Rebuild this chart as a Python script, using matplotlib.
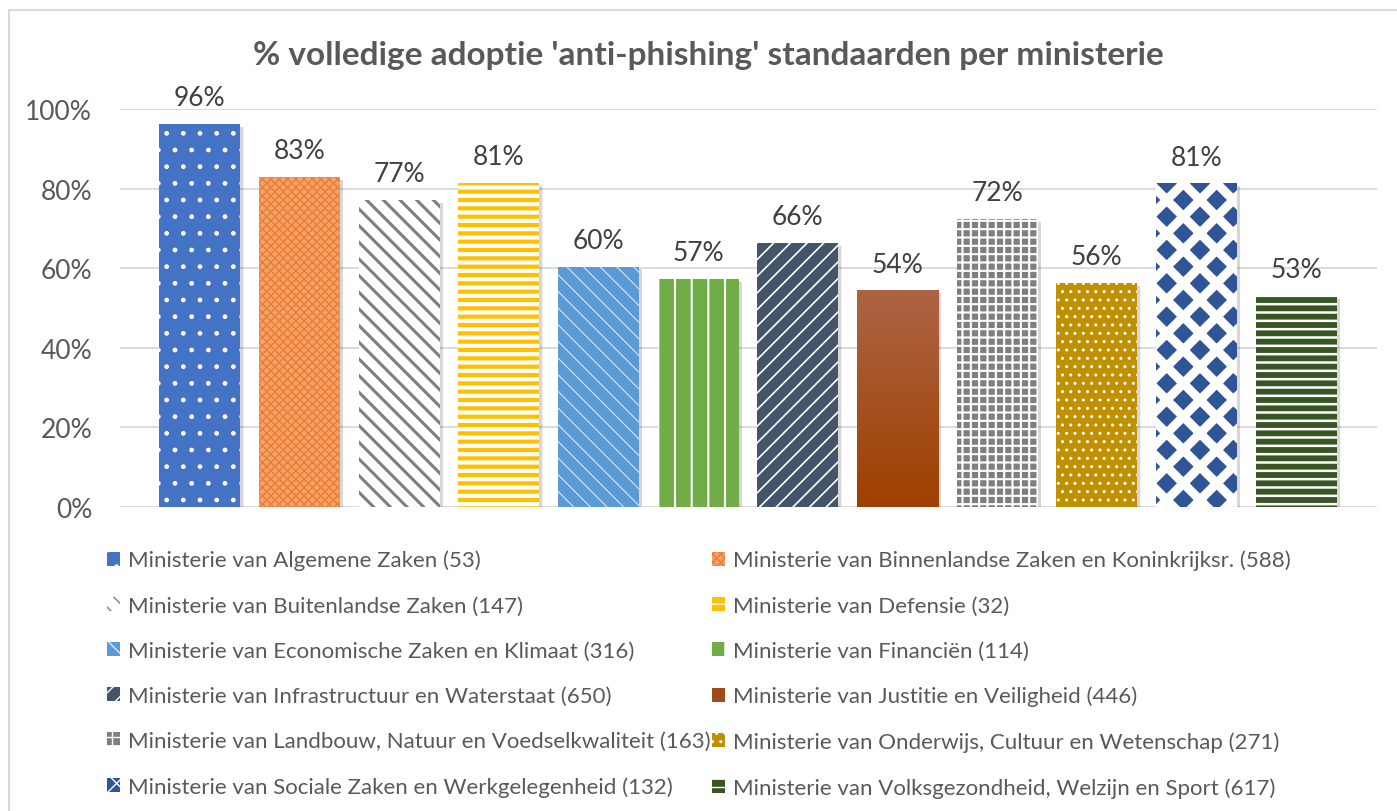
import numpy as np
import matplotlib
matplotlib.use('Agg')
import matplotlib.pyplot as plt
from matplotlib.patches import Rectangle
from matplotlib.ticker import PercentFormatter
from matplotlib.transforms import ScaledTranslation

plt.rcParams['font.family'] = ['Lato', 'DejaVu Sans']

# data
ministeries = [
    'Ministerie van Algemene Zaken (53)',
    'Ministerie van Binnenlandse Zaken en Koninkrijksr. (588)',
    'Ministerie van Buitenlandse Zaken (147)',
    'Ministerie van Defensie (32)',
    'Ministerie van Economische Zaken en Klimaat (316)',
    'Ministerie van Financiën (114)',
    'Ministerie van Infrastructuur en Waterstaat (650)',
    'Ministerie van Justitie en Veiligheid (446)',
    'Ministerie van Landbouw, Natuur en Voedselkwaliteit (163)',
    'Ministerie van Onderwijs, Cultuur en Wetenschap (271)',
    'Ministerie van Sociale Zaken en Werkgelegenheid (132)',
    'Ministerie van Volksgezondheid, Welzijn en Sport (617)',
]
adoptie = [0.963, 0.829, 0.771, 0.814, 0.604, 0.573, 0.663, 0.544, 0.724, 0.562, 0.813, 0.530]
title = "% volledige adoptie 'anti-phishing' standaarden per ministerie"

# styles: (face, hatch colour, hatch, hatch linewidth)
styles = [
    ('#4472C4', 'white', '.', 1.0),
    ('#F3A26A', '#ED7D31', 'xxxx', 1.0),
    ('white', '#7F7F7F', '\\\\', 2.2),
    ('#FFC000', 'white', '--', 3.0),
    ('#5B9BD5', '#D8E6F4', '\\\\', 0.8),
    ('#70AD47', 'white', '|', 1.5),
    ('#44546A', 'white', '//', 1.2),
    ('#A14A1A', None, '', 0),
    ('#7F7F7F', 'white', '++', 1.5),
    ('#BF9000', 'white', '..', 1.0),
    ('#2F5597', 'white', 'x', 6.5),
    ('#375623', 'white', '--', 1.8),
]
grad_top, grad_bottom = '#AD6444', '#9E4000'

text_grey = '#595959'

fig = plt.figure(figsize=(13.97, 8.12), dpi=100)
ax = fig.add_axes([120 / 1397, 1 - 508 / 812, 1257 / 1397, 398 / 812])

x = np.arange(len(adoptie))

# soft shadow behind the bars
shadow_tr = ax.transData + ScaledTranslation(2 / 72, -2 / 72, fig.dpi_scale_trans)
for k, a in enumerate([0.06, 0.1]):
    sh = ax.bar(x, adoptie, width=0.815 + 0.01 * (1 - k), color='black', alpha=a, zorder=2.5, linewidth=0)
    for p in sh:
        p.set_transform(shadow_tr)

bars = ax.bar(x, adoptie, width=0.815, zorder=3, linewidth=0)
for b, (face, hcol, hatch, hlw) in zip(bars, styles):
    b.set_facecolor(face)
    if hcol is not None:
        b.set_edgecolor(hcol)
        b.set_hatch(hatch)
        if hasattr(b, 'set_hatch_linewidth'):
            b.set_hatch_linewidth(hlw)

# gradient bar
for b, (face, hcol, hatch, hlw) in zip(bars, styles):
    if hcol is None:
        x0, y0 = b.get_x(), b.get_y()
        w, h = b.get_width(), b.get_height()
        c1 = np.array(matplotlib.colors.to_rgb(grad_top))
        c2 = np.array(matplotlib.colors.to_rgb(grad_bottom))
        t = np.linspace(0, 1, 100)[:, None]
        img = (c1 * (1 - t) + c2 * t)[:, None, :]
        im = ax.imshow(img, extent=[x0, x0 + w, y0, y0 + h], aspect='auto', zorder=3.5)
        im.set_clip_path(b)

for xi, v in zip(x, adoptie):
    ax.annotate('{:.0%}'.format(v), (xi, v), xytext=(0, 10), textcoords='offset points',
                ha='center', va='bottom', fontsize=19, color='#404040', clip_on=False)

ax.set_ylim(0, 1)
ax.set_xlim(-0.5 - 30 / 99.6, 11.5 + 31 / 99.6)
ax.set_yticks(np.arange(0, 1.01, 0.2))
ax.yaxis.set_major_formatter(PercentFormatter(1.0, decimals=0))
ax.set_xticks([])
ax.grid(axis='y', color='#D9D9D9', linewidth=1.3, zorder=0)
ax.tick_params(axis='y', length=0, pad=20, labelsize=19, labelcolor=text_grey)
for s in ax.spines.values():
    s.set_visible(False)
ax.set_facecolor('none')

fig.text(708 / 1397, 1 - 55 / 812, title, ha='center', va='center', fontsize=24,
         fontweight='bold', color=text_grey)

order = [0, 2, 4, 6, 8, 10, 1, 3, 5, 7, 9, 11]
leg = fig.legend([bars[i] for i in order], [ministeries[i] for i in order], ncol=2,
                 loc='upper left', bbox_to_anchor=(98 / 1397, 1 - 542 / 812), frameon=False,
                 fontsize=16, labelcolor=text_grey, handlelength=0.6, handleheight=0.6,
                 handletextpad=0.35, columnspacing=0.05, labelspacing=1.13, borderaxespad=0)

fig.patches.append(Rectangle((9 / 1397, -0.1), 1.2, 1.1 - 11 / 812, transform=fig.transFigure,
                             fill=False, edgecolor='#D9D9D9', linewidth=1.5))

fig.savefig('out.png', dpi=100)
